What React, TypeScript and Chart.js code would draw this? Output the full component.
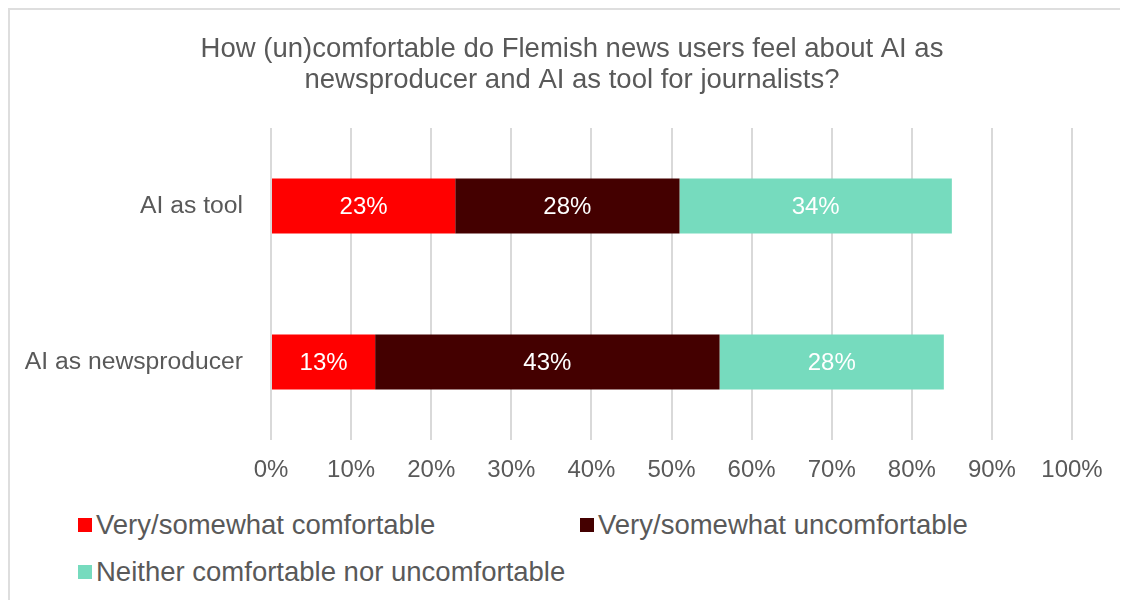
import React, { useEffect, useRef } from "react";
import { Chart, registerables } from "chart.js";

Chart.register(...registerables);

const categories = ["AI as tool", "AI as newsproducer"];
const comfortable = [23, 13];
const uncomfortable = [28, 43];
const neither = [34, 28];
const seriesNames = [
  "Very/somewhat comfortable",
  "Very/somewhat uncomfortable",
  "Neither comfortable nor uncomfortable",
];
const seriesColors = ["#FF0000", "#440000", "#76DBBE"];
const xTicks = [0, 10, 20, 30, 40, 50, 60, 70, 80, 90, 100];
const titleLines = [
  "How (un)comfortable do Flemish news users feel about AI as",
  "newsproducer and AI as tool for journalists?",
];

const FONT = "'Liberation Sans', Arial, Helvetica, sans-serif";
const TEXT = "#595959";

const dataLabels = {
  id: "dataLabels",
  afterDatasetsDraw(chart: any) {
    const ctx = chart.ctx;
    ctx.save();
    ctx.fillStyle = "#FFFFFF";
    ctx.font = `24px ${FONT}`;
    ctx.textAlign = "center";
    ctx.textBaseline = "middle";
    chart.data.datasets.forEach((ds: any, di: number) => {
      const meta = chart.getDatasetMeta(di);
      meta.data.forEach((el: any, i: number) => {
        const p = el.getCenterPoint();
        ctx.fillText(`${ds.data[i]}%`, p.x, p.y + 1);
      });
    });
    ctx.restore();
  },
};

const titleDraw = {
  id: "titleDraw",
  afterDraw(chart: any) {
    const ctx = chart.ctx;
    ctx.save();
    ctx.fillStyle = TEXT;
    ctx.font = `27.5px ${FONT}`;
    ctx.textAlign = "center";
    ctx.textBaseline = "middle";
    titleLines.forEach((line, i) => {
      ctx.fillText(line, 562, 39 + i * 31.5);
    });
    ctx.restore();
  },
};

export default function App() {
  const ref = useRef<HTMLCanvasElement | null>(null);

  useEffect(() => {
    if (!ref.current) return;
    const values = [comfortable, uncomfortable, neither];
    const chart = new Chart(ref.current, {
      type: "bar",
      data: {
        labels: categories,
        datasets: values.map((v, i) => ({
          label: seriesNames[i],
          data: v,
          backgroundColor: seriesColors[i],
          borderWidth: 0,
          barPercentage: 0.3526,
          categoryPercentage: 1,
        })),
      },
      options: {
        indexAxis: "y",
        animation: false,
        responsive: false,
        maintainAspectRatio: false,
        layout: { padding: { top: 118, right: 56, bottom: 0, left: 0 } },
        plugins: {
          legend: { display: false },
          tooltip: { enabled: false },
          title: { display: false },
        },
        scales: {
          x: {
            stacked: true,
            min: 0,
            max: 100,
            afterBuildTicks: (s: any) => {
              s.ticks = xTicks.map((v) => ({ value: v }));
            },
            afterFit: (s: any) => {
              s.height = 50;
            },
            grid: { color: "#D9D9D9", lineWidth: 2, drawTicks: false },
            border: { display: false },
            ticks: {
              padding: 16,
              color: TEXT,
              font: { family: FONT, size: 24 },
              callback: (v: any) => `${v}%`,
              maxRotation: 0,
              autoSkip: false,
            },
          },
          y: {
            stacked: true,
            afterFit: (s: any) => {
              s.width = 261;
            },
            grid: { display: false, drawTicks: false },
            border: { display: false },
            ticks: {
              padding: 28,
              color: TEXT,
              font: { family: FONT, size: 24.7 },
            },
          },
        },
      },
      plugins: [dataLabels, titleDraw],
    } as any);
    return () => chart.destroy();
  }, []);

  const legendItem = (i: number, left: number, top: number) => (
    <div
      key={i}
      style={{
        position: "absolute",
        left,
        top,
        display: "flex",
        alignItems: "center",
        height: 32,
        whiteSpace: "nowrap",
      }}
    >
      <span
        style={{
          display: "inline-block",
          width: 14,
          height: 14,
          background: seriesColors[i],
          marginRight: 4,
        }}
      />
      <span style={{ fontFamily: FONT, fontSize: 27.5, color: TEXT, lineHeight: "32px" }}>
        {seriesNames[i]}
      </span>
    </div>
  );

  return (
    <div
      style={{
        position: "relative",
        width: 1118,
        height: 590,
        borderTop: "2px solid #DEDEDE",
        borderLeft: "2px solid #DEDEDE",
        background: "#FFFFFF",
        overflow: "hidden",
      }}
    >
      <canvas ref={ref} width={1118} height={480} style={{ display: "block" }} />
      {legendItem(0, 68, 499)}
      {legendItem(1, 570, 499)}
      {legendItem(2, 68, 546)}
    </div>
  );
}
